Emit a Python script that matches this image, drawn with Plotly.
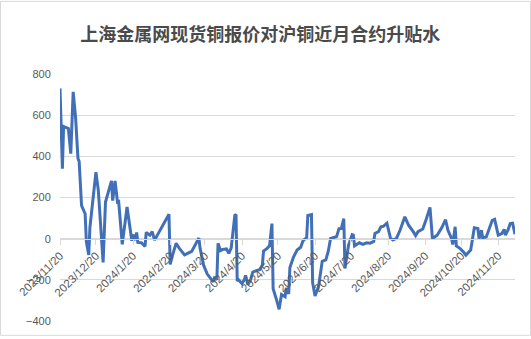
import plotly.graph_objects as go

dates = [
    "2023-11-20", "2023-11-22", "2023-11-23", "2023-11-27", "2023-11-29", "2023-12-01",
    "2023-12-03", "2023-12-05", "2023-12-06", "2023-12-08", "2023-12-11", "2023-12-12",
    "2023-12-14", "2023-12-15", "2023-12-20", "2023-12-22", "2023-12-26", "2023-12-28",
    "2024-01-02", "2024-01-03", "2024-01-05", "2024-01-07", "2024-01-08", "2024-01-11",
    "2024-01-15", "2024-01-17", "2024-01-19", "2024-01-20", "2024-01-22", "2024-01-23",
    "2024-01-24", "2024-01-27", "2024-01-29", "2024-01-30", "2024-01-31", "2024-02-03",
    "2024-02-05", "2024-02-07", "2024-02-19", "2024-02-20", "2024-02-22", "2024-02-25",
    "2024-02-28", "2024-03-03", "2024-03-09", "2024-03-13", "2024-03-15", "2024-03-16",
    "2024-03-19", "2024-03-22", "2024-03-24", "2024-03-27", "2024-03-28", "2024-03-30",
    "2024-03-31", "2024-04-02", "2024-04-04", "2024-04-07", "2024-04-09", "2024-04-11",
    "2024-04-14", "2024-04-15", "2024-04-16", "2024-04-17", "2024-04-20", "2024-04-22",
    "2024-04-23", "2024-04-25", "2024-04-27", "2024-04-29", "2024-05-02", "2024-05-05",
    "2024-05-07", "2024-05-08", "2024-05-11", "2024-05-13", "2024-05-15", "2024-05-16",
    "2024-05-19", "2024-05-21", "2024-05-23", "2024-05-26", "2024-05-27", "2024-05-29",
    "2024-05-30", "2024-06-02", "2024-06-05", "2024-06-08", "2024-06-10", "2024-06-13",
    "2024-06-14", "2024-06-17", "2024-06-18", "2024-06-20", "2024-06-23", "2024-06-24",
    "2024-06-26", "2024-06-29", "2024-07-01", "2024-07-03", "2024-07-05", "2024-07-08",
    "2024-07-10", "2024-07-12", "2024-07-14", "2024-07-15", "2024-07-18", "2024-07-21",
    "2024-07-22", "2024-07-23", "2024-07-27", "2024-07-30", "2024-08-02", "2024-08-05",
    "2024-08-08", "2024-08-09", "2024-08-12", "2024-08-14", "2024-08-16", "2024-08-19",
    "2024-08-22", "2024-08-24", "2024-08-27", "2024-08-30", "2024-09-03", "2024-09-06",
    "2024-09-10", "2024-09-12", "2024-09-14", "2024-09-18", "2024-09-21", "2024-09-24",
    "2024-09-26", "2024-09-30", "2024-10-04", "2024-10-07", "2024-10-09", "2024-10-12",
    "2024-10-13", "2024-10-15", "2024-10-16", "2024-10-19", "2024-10-22", "2024-10-24",
    "2024-10-28", "2024-10-31", "2024-11-03", "2024-11-04", "2024-11-06", "2024-11-07",
    "2024-11-10", "2024-11-12", "2024-11-15", "2024-11-17", "2024-11-20", "2024-11-23",
    "2024-11-25", "2024-11-26", "2024-11-28", "2024-11-30", "2024-12-02", "2024-12-04",
]

spread = [
    730, 340, 545, 535, 413, 713,
    590, 390, 375, 161, 121, -14,
    -79, 55, 323, 235, -115, 178,
    281, 185, 281, 178, 180, -28,
    154, 60, -10, 20, -7, 30,
    -18, -20, -35, -38, 30, 17,
    34, -7, 119, -125, -80, -22,
    -50, -79, -62, -22, 3, -47,
    -130, -172, -185, -210, -191, -199,
    -22, -58, -52, -50, -71, -45,
    113, 117, -205, -199, -218, -199,
    -178, -223, -203, -162, -155, -150,
    -127, -60, -47, -35, 73, -243,
    -300, -343, -271, -282, -239, -268,
    -140, -90, -55, -42, -10, 5,
    113, 117, -215, -278, -230, -180,
    -110, -103, -62, 1, 5, 10,
    49, 50, 97, -145, -31, 19,
    17, -35, -20, -28, -20, -22,
    -14, 25, 34, 58, 60, 75,
    3, -7, 1, 41, 106, 67,
    34, 15, 34, 47, 97, 152,
    1, 17, 55, 92, 41, 1,
    -28, 58, -35, -47, -65, -80,
    -55, 53, 49, 1, 41, 5,
    8, 45, 89, 94, 17, 25,
    45, 17, 40, 73, 75, 22,
]

tick_dates = [
    "2023-11-20", "2023-12-20", "2024-01-20", "2024-02-20", "2024-03-20", "2024-04-20",
    "2024-05-20", "2024-06-20", "2024-07-20", "2024-08-20", "2024-09-20", "2024-10-20",
    "2024-11-20",
]
tick_text = [
    "2023/11/20", "2023/12/20", "2024/1/20", "2024/2/20", "2024/3/20", "2024/4/20",
    "2024/5/20", "2024/6/20", "2024/7/20", "2024/8/20", "2024/9/20", "2024/10/20",
    "2024/11/20",
]

title_text = "上海金属网现货铜报价对沪铜近月合约升贴水"

grey = "#595959"
grid = "#d9d9d9"

fig = go.Figure()
fig.add_trace(go.Scatter(
    x=dates, y=spread, mode="lines",
    line=dict(color="#4170B8", width=3),
    hoverinfo="skip", showlegend=False,
))

fig.update_layout(
    width=531, height=339,
    margin=dict(l=60, r=16, t=74, b=15),
    paper_bgcolor="white", plot_bgcolor="white",
    title=dict(
        text=title_text, xref="container", x=0.49, xanchor="center",
        yref="container", y=1 - 35 / 339, yanchor="middle",
        font=dict(family="Noto Sans CJK SC", size=18, color="#4a4a4a", weight="bold"),
    ),
    font=dict(family="Liberation Sans, Arial", color=grey, size=11),
    xaxis=dict(
        type="date",
        range=["2023-11-20", "2024-12-04"],
        tickvals=tick_dates, ticktext=tick_text,
        tickangle=-45,
        showgrid=False,
        showline=True, linecolor=grid, linewidth=1,
        ticks="outside", ticklen=5, tickcolor=grid,
        tickfont=dict(size=11.5, color=grey),
        anchor="free", position=400 / 1200,
        zeroline=False,
    ),
    yaxis=dict(
        range=[-400, 800], dtick=200, tick0=0,
        showgrid=True, gridcolor=grid, gridwidth=1,
        zeroline=False, showline=False,
        ticks="outside", ticklen=6, tickcolor="rgba(0,0,0,0)",
        tickfont=dict(size=11, color=grey),
    ),
    shapes=[dict(
        type="rect", xref="paper", yref="paper",
        x0=(0.5 - 60) / 455, x1=(530.5 - 60) / 455,
        y0=(324 - 338.5) / 250, y1=(324 - 0.5) / 250,
        line=dict(color=grid, width=1), fillcolor="rgba(0,0,0,0)", layer="below",
    )],
)

fig.write_html("out.html")
